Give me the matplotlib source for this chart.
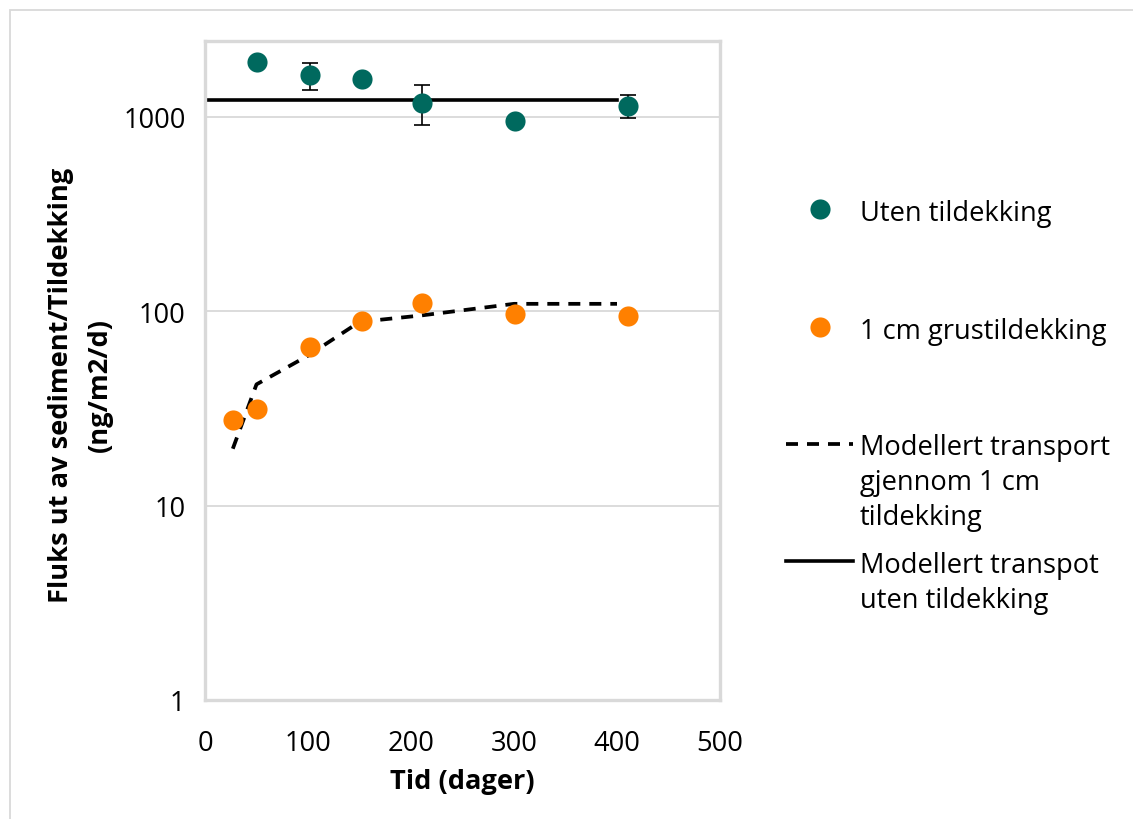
import matplotlib.pyplot as plt
import matplotlib.patches as mpatches
from matplotlib.lines import Line2D

plt.rcParams["font.family"] = ["Open Sans", "DejaVu Sans"]

# measured flux, no cover
days_open = [50, 102, 152, 211, 301, 411]
flux_open = [1920, 1640, 1570, 1180, 955, 1140]
err_open_lo = [0, 270, 0, 270, 0, 160]
err_open_hi = [0, 250, 0, 280, 0, 160]

# measured flux, 1 cm gravel cover
days_cover = [27, 50, 102, 152, 211, 301, 411]
flux_cover = [27.5, 31.2, 65, 88.5, 110, 96.5, 94]

# modelled transport
model_days = [27, 50, 100, 150, 210, 300, 400]
model_cover = [19.6, 42, 59, 88, 95, 109, 109]
model_open_days = [0, 400]
model_open = [1220, 1220]

TEAL = "#00695E"
ORANGE = "#FF8000"
GRID = "#D9D9D9"
FS = 19.6
DASH = (3.2, 2.4)

W, H = 1133, 820
fig = plt.figure(figsize=(W / 100, H / 100), dpi=100)
ax = fig.add_axes([205 / W, 1 - 701 / H, (720 - 205) / W, (701 - 42) / H])

ax.plot(model_days, model_cover, color="black", lw=2.7, dashes=DASH, zorder=2)
ax.plot(model_open_days, model_open, color="black", lw=2.6, zorder=2)
ax.errorbar(days_open, flux_open, yerr=[err_open_lo, err_open_hi], fmt="none",
            ecolor="black", elinewidth=1.2, capsize=5.5, capthick=1.2, zorder=3)
ax.plot(days_open, flux_open, "o", color=TEAL, ms=14.5, mec="none", zorder=4)
ax.plot(days_cover, flux_cover, "o", color=ORANGE, ms=14.5, mec="none", zorder=4)

ax.set_yscale("log")
ax.set_xlim(0, 500)
ax.set_ylim(1, 2450)
ax.set_xticks([0, 100, 200, 300, 400, 500])
ax.set_yticks([1, 10, 100, 1000])
ax.set_yticklabels(["1", "10", "100", "1000"])
ax.minorticks_off()
ax.tick_params(length=0, labelsize=FS, pad=14)
ax.tick_params(axis="x", pad=21)
for v in [10, 100, 1000]:
    ax.axhline(v, color=GRID, lw=1.3, zorder=0)
for s in ax.spines.values():
    s.set_color(GRID)
    s.set_linewidth(2.4)

ax.set_xlabel("Tid (dager)", fontsize=FS, fontweight="bold", labelpad=8)
fig.text(61 / W, 1 - 385 / H, "Fluks ut av sediment/Tildekking", rotation=90,
         fontsize=FS, fontweight="bold", ha="center", va="center")
fig.text(100 / W, 1 - 385 / H, "(ng/m2/d)", rotation=90,
         fontsize=FS, fontweight="bold", ha="center", va="center")

# legend drawn by hand so handles sit on the first text line
def fy(py):
    return 1 - py / H

fig.add_artist(Line2D([820 / W], [fy(210)], marker="o", color=TEAL, ms=14.5, mec="none", ls="none"))
fig.add_artist(Line2D([820 / W], [fy(328)], marker="o", color=ORANGE, ms=14.5, mec="none", ls="none"))
fig.add_artist(Line2D([786 / W, 853 / W], [fy(445), fy(445)], color="black", lw=2.7, dashes=DASH))
fig.add_artist(Line2D([786 / W, 853 / W], [fy(562), fy(562)], color="black", lw=2.6))
legend_rows = [
    (210, "Uten tildekking"),
    (328, "1 cm grustildekking"),
    (445, "Modellert transport"),
    (480, "gjennom 1 cm"),
    (515, "tildekking"),
    (562, "Modellert transpot"),
    (598, "uten tildekking"),
]
for py, txt in legend_rows:
    fig.text(860 / W, fy(py), txt, fontsize=FS, ha="left", va="center_baseline")

fig.add_artist(mpatches.Rectangle((10 / W, -0.1), 1.2, 1.1 - 11 / H, transform=fig.transFigure,
                                  fill=False, edgecolor=GRID, lw=1.3))

fig.savefig("out.png", dpi=100)
